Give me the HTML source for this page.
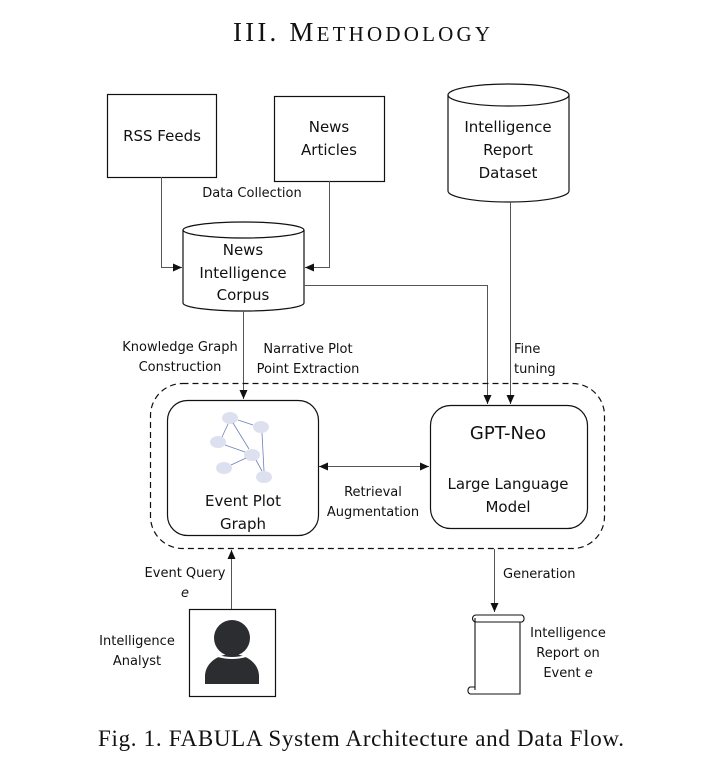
<!DOCTYPE html>
<html><head><meta charset="utf-8"><style>
html,body{margin:0;padding:0;background:#fff;}
svg{display:block;}
.s{font-family:"DejaVu Sans","Liberation Sans",sans-serif;fill:#111;}
.r{font-family:"Liberation Serif",serif;fill:#111;}
</style></head><body>
<svg width="719" height="763" viewBox="0 0 719 763" xmlns="http://www.w3.org/2000/svg">
<defs>
<marker id="a" markerWidth="10" markerHeight="10" refX="9" refY="5" orient="auto" markerUnits="userSpaceOnUse">
<path d="M0,1 L9,5 L0,9 Z" fill="#111"/></marker>
<marker id="b" markerWidth="10" markerHeight="10" refX="1" refY="5" orient="auto" markerUnits="userSpaceOnUse">
<path d="M10,1 L1,5 L10,9 Z" fill="#111"/></marker>
</defs>
<text class="r" x="233" y="41" font-size="27" textLength="257" lengthAdjust="spacing">III. M<tspan font-size="21">ETHODOLOGY</tspan></text>

<rect x="107.5" y="94.5" width="109" height="83" fill="none" stroke="#111" stroke-width="1.2"/>
<text class="s" x="162" y="141" text-anchor="middle" font-size="15">RSS Feeds</text>
<rect x="274.5" y="96.5" width="110" height="85" fill="none" stroke="#111" stroke-width="1.2"/>
<text class="s" x="329" y="132" text-anchor="middle" font-size="15">News</text>
<text class="s" x="329" y="155" text-anchor="middle" font-size="15">Articles</text>

<path d="M448,95 A60.5,11 0 0 1 569,95 L569,191 A60.5,11 0 0 1 448,191 Z" fill="#fff" stroke="#111" stroke-width="1.2"/>
<path d="M448,95 A60.5,11 0 0 0 569,95" fill="none" stroke="#111" stroke-width="1.2"/>
<text class="s" x="508" y="132" text-anchor="middle" font-size="15">Intelligence</text>
<text class="s" x="508" y="155" text-anchor="middle" font-size="15">Report</text>
<text class="s" x="508" y="178" text-anchor="middle" font-size="15">Dataset</text>

<text class="s" x="252" y="197" text-anchor="middle" font-size="13">Data Collection</text>

<path d="M183,230 A60.5,8 0 0 1 304,230 L304,303 A60.5,8 0 0 1 183,303 Z" fill="#fff" stroke="#111" stroke-width="1.2"/>
<path d="M183,230 A60.5,8 0 0 0 304,230" fill="none" stroke="#111" stroke-width="1.2"/>
<text class="s" x="243" y="255" text-anchor="middle" font-size="15">News</text>
<text class="s" x="243" y="278" text-anchor="middle" font-size="15">Intelligence</text>
<text class="s" x="243" y="300" text-anchor="middle" font-size="15">Corpus</text>

<g stroke="#555" stroke-width="1" fill="none">
<path d="M161.5,177 V267.5 H182" marker-end="url(#a)"/>
<path d="M329.5,181 V267.5 H305" marker-end="url(#a)"/>
<path d="M304,285.5 H487.5 V404" marker-end="url(#a)"/>
<path d="M510.5,202 V404" marker-end="url(#a)"/>
<path d="M243.5,311 V399" marker-end="url(#a)"/>
<path d="M319,466.5 H429" marker-start="url(#b)" marker-end="url(#a)"/>
<path d="M231.5,609 V550" marker-end="url(#a)"/>
<path d="M494.5,549 V612" marker-end="url(#a)"/>
</g>

<text class="s" x="180" y="351" text-anchor="middle" font-size="13">Knowledge Graph</text>
<text class="s" x="180" y="371" text-anchor="middle" font-size="13">Construction</text>
<text class="s" x="308" y="353" text-anchor="middle" font-size="13">Narrative Plot</text>
<text class="s" x="308" y="373" text-anchor="middle" font-size="13">Point Extraction</text>
<text class="s" x="514" y="353" font-size="13">Fine</text>
<text class="s" x="514" y="373" font-size="13">tuning</text>

<rect x="150.5" y="383.5" width="454" height="165" rx="32" fill="none" stroke="#111" stroke-width="1.2" stroke-dasharray="6,4"/>

<rect x="167.5" y="400.5" width="151" height="135" rx="20" fill="#fff" stroke="#111" stroke-width="1.2"/>
<g fill="#dde1ef">
<ellipse cx="230" cy="418" rx="8" ry="6"/><ellipse cx="261" cy="427" rx="8" ry="6"/>
<ellipse cx="218" cy="442" rx="8" ry="6"/><ellipse cx="252" cy="455" rx="8" ry="6"/>
<ellipse cx="224" cy="468" rx="8" ry="6"/><ellipse cx="264" cy="477" rx="8" ry="6"/>
</g>
<g stroke="#6f82b8" stroke-width="0.8">
<line x1="238" y1="420" x2="253" y2="425"/><line x1="222" y1="437" x2="228" y2="424"/>
<line x1="233" y1="423" x2="249" y2="449"/><line x1="225" y1="445" x2="245" y2="452"/>
<line x1="246" y1="458" x2="231" y2="465"/><line x1="256" y1="460" x2="262" y2="471"/>
<line x1="262" y1="433" x2="264" y2="471"/>
</g>
<text class="s" x="243" y="506" text-anchor="middle" font-size="15">Event Plot</text>
<text class="s" x="243" y="529" text-anchor="middle" font-size="15">Graph</text>

<rect x="430.5" y="405.5" width="157" height="123" rx="20" fill="#fff" stroke="#111" stroke-width="1.2"/>
<text class="s" x="508" y="439" text-anchor="middle" font-size="18">GPT-Neo</text>
<text class="s" x="508" y="489" text-anchor="middle" font-size="15">Large Language</text>
<text class="s" x="508" y="512" text-anchor="middle" font-size="15">Model</text>

<text class="s" x="373" y="496" text-anchor="middle" font-size="13">Retrieval</text>
<text class="s" x="373" y="516" text-anchor="middle" font-size="13">Augmentation</text>

<text class="s" x="185" y="577" text-anchor="middle" font-size="13">Event Query</text>
<text class="s" x="185" y="597" text-anchor="middle" font-size="13" font-style="italic">e</text>
<text class="s" x="503" y="578" font-size="13">Generation</text>

<rect x="189.5" y="609.5" width="86" height="87" fill="none" stroke="#111" stroke-width="1.2"/>
<circle cx="232" cy="638" r="18" fill="#2b2d30"/>
<path d="M205,684 V676 A27,22 0 0 1 259,676 V684 Z" fill="#2b2d30"/>
<path d="M218,656 Q232,660 246,656" stroke="#fff" stroke-width="2" fill="none"/>
<text class="s" x="137" y="645" text-anchor="middle" font-size="13">Intelligence</text>
<text class="s" x="137" y="665" text-anchor="middle" font-size="13">Analyst</text>

<g fill="none" stroke="#111" stroke-width="1.1">
<path d="M476,615 H522 A4,4 0 0 1 522,622 H476"/>
<path d="M476,615 A3.5,3.5 0 0 0 476,622"/>
<path d="M475,618 V690 M520,622 V694 H470"/>
<path d="M470,694 A4,4 0 0 1 470,687 H475"/>
</g>
<text class="s" x="568" y="637" text-anchor="middle" font-size="13">Intelligence</text>
<text class="s" x="568" y="657" text-anchor="middle" font-size="13">Report on</text>
<text class="s" x="568" y="677" text-anchor="middle" font-size="13">Event <tspan font-style="italic">e</tspan></text>

<text class="r" x="98" y="746" font-size="23" textLength="526" lengthAdjust="spacing">Fig. 1.  FABULA System Architecture and Data Flow.</text>
</svg>
</body></html>
